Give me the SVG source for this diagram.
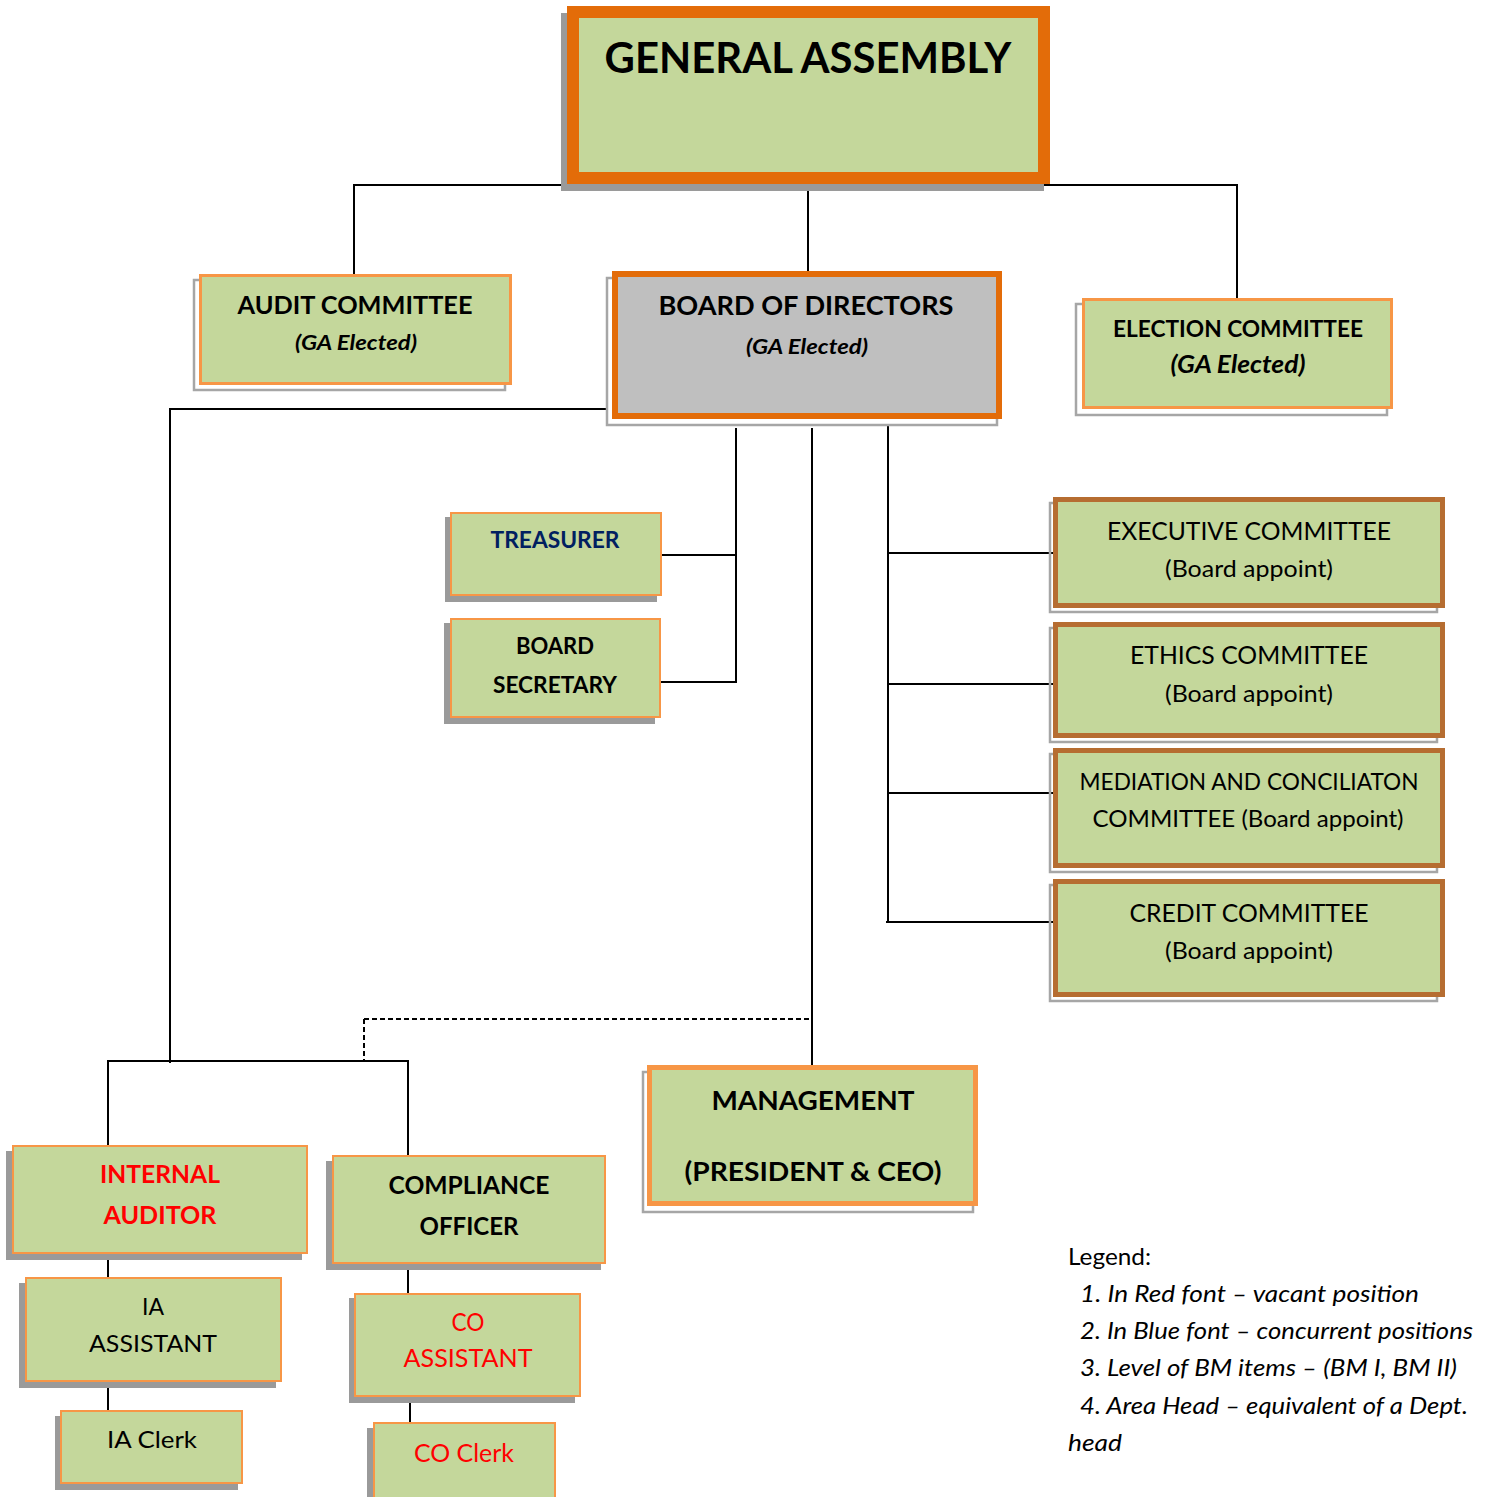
<svg xmlns="http://www.w3.org/2000/svg" width="1491" height="1497" viewBox="0 0 1491 1497">
<style>
text{font-family:Lato,"Liberation Sans",sans-serif;text-anchor:middle;fill:#000}
.b{font-weight:bold}
.i{font-style:italic}
.box{fill:#c4d79b}
.o{stroke:#f79646}
.do{stroke:#e36c09}
.br{stroke:#b66d31}
.sh{fill:#9a9a9a}
.sho{fill:none;stroke:#a6a6a6;stroke-width:2.5}
.red{fill:#ff0000}
.navy{fill:#002060}
.ln{stroke:#000;stroke-width:2;fill:none}
.lg{text-anchor:start;font-size:23px}
</style>
<rect width="1491" height="1497" fill="#fff"/>
<g id="connectors">
<path class="ln" d="M354 275V185H1237V300M808 185V272"/>
<path class="ln" d="M607 409H170V1063M108 1146V1061H408V1155"/>
<path class="ln" d="M364 1019H812" stroke-dasharray="5 3"/>
<path class="ln" d="M364 1019V1061" stroke-dasharray="5 3"/>
<path class="ln" d="M736 428V682H661M736 555H661"/>
<path class="ln" d="M812 428V1066"/>
<path class="ln" d="M888 425V922M888 553H1056M888 684H1056M888 793H1056M886 922H1056"/>
<path class="ln" d="M108 1254V1277M108 1388V1410M408 1264V1293M410 1397V1422"/>
</g>
<g id="general-assembly">
<rect class="sh" x="561" y="13" width="483" height="178"/>
<rect class="box do" x="573" y="12" width="471" height="166" stroke-width="12"/>
<text class="b" x="808" y="73" font-size="42" textLength="407" lengthAdjust="spacingAndGlyphs">GENERAL ASSEMBLY</text>
</g>
<g id="audit-committee">
<rect class="sho" x="194" y="280" width="311" height="110"/>
<rect class="box o" x="200.5" y="275.5" width="310" height="108" stroke-width="3"/>
<text class="b" x="355" y="314" font-size="25" textLength="235" lengthAdjust="spacingAndGlyphs">AUDIT COMMITTEE</text>
<text class="b i" x="356" y="350" font-size="21" textLength="122" lengthAdjust="spacingAndGlyphs">(GA Elected)</text>
</g>
<g id="board-of-directors">
<rect class="sho" x="607" y="278" width="390" height="147"/>
<rect x="615" y="274" width="384" height="142" fill="#bfbfbf" class="do" stroke-width="6"/>
<text class="b" x="806" y="315" font-size="26" textLength="295" lengthAdjust="spacingAndGlyphs">BOARD OF DIRECTORS</text>
<text class="b i" x="807" y="354" font-size="21" textLength="122" lengthAdjust="spacingAndGlyphs">(GA Elected)</text>
</g>
<g id="election-committee">
<rect class="sho" x="1076" y="304" width="311" height="111"/>
<rect class="box o" x="1083.5" y="299.5" width="308" height="108" stroke-width="3"/>
<text class="b" x="1238" y="337" font-size="22" textLength="250" lengthAdjust="spacingAndGlyphs">ELECTION COMMITTEE</text>
<text class="b i" x="1238" y="373" font-size="24" textLength="135" lengthAdjust="spacingAndGlyphs">(GA Elected)</text>
</g>
<g id="treasurer">
<rect class="sh" x="445" y="517" width="212" height="85"/>
<rect class="box o" x="451" y="513" width="210" height="82" stroke-width="2"/>
<text class="b navy" x="555" y="548" font-size="23" textLength="129" lengthAdjust="spacingAndGlyphs">TREASURER</text>
</g>
<g id="board-secretary">
<rect class="sh" x="444" y="623" width="211" height="101"/>
<rect class="box o" x="451" y="619" width="209" height="98" stroke-width="2"/>
<text class="b" x="555" y="654" font-size="23" textLength="78" lengthAdjust="spacingAndGlyphs">BOARD</text>
<text class="b" x="555" y="693" font-size="23" textLength="124" lengthAdjust="spacingAndGlyphs">SECRETARY</text>
</g>
<g id="executive-committee">
<rect class="sho" x="1050" y="503" width="387" height="109"/>
<rect class="box br" x="1055.5" y="499.5" width="387" height="106" stroke-width="5"/>
<text x="1249" y="540" font-size="25" textLength="284" lengthAdjust="spacingAndGlyphs">EXECUTIVE COMMITTEE</text>
<text x="1249" y="577" font-size="24" textLength="168" lengthAdjust="spacingAndGlyphs">(Board appoint)</text>
</g>
<g id="ethics-committee">
<rect class="sho" x="1050" y="628" width="387" height="114"/>
<rect class="box br" x="1055.5" y="624.5" width="387" height="111" stroke-width="5"/>
<text x="1249" y="664" font-size="25" textLength="238" lengthAdjust="spacingAndGlyphs">ETHICS COMMITTEE</text>
<text x="1249" y="702" font-size="24" textLength="168" lengthAdjust="spacingAndGlyphs">(Board appoint)</text>
</g>
<g id="mediation-committee">
<rect class="sho" x="1050" y="754" width="387" height="118"/>
<rect class="box br" x="1055.5" y="750.5" width="387" height="115" stroke-width="5"/>
<text x="1249" y="790" font-size="24" textLength="339" lengthAdjust="spacingAndGlyphs">MEDIATION AND CONCILIATON</text>
<text x="1248" y="827" font-size="24" textLength="311" lengthAdjust="spacingAndGlyphs">COMMITTEE (Board appoint)</text>
</g>
<g id="credit-committee">
<rect class="sho" x="1050" y="885" width="387" height="116"/>
<rect class="box br" x="1055.5" y="881.5" width="387" height="113" stroke-width="5"/>
<text x="1249" y="922" font-size="25" textLength="239" lengthAdjust="spacingAndGlyphs">CREDIT COMMITTEE</text>
<text x="1249" y="959" font-size="24" textLength="168" lengthAdjust="spacingAndGlyphs">(Board appoint)</text>
</g>
<g id="management">
<rect class="sho" x="643" y="1072" width="330" height="140"/>
<rect class="box o" x="649.5" y="1067.5" width="326" height="136" stroke-width="5"/>
<text class="b" x="813" y="1110" font-size="26" textLength="203" lengthAdjust="spacingAndGlyphs">MANAGEMENT</text>
<text class="b" x="813" y="1181" font-size="26" textLength="257" lengthAdjust="spacingAndGlyphs">(PRESIDENT &amp; CEO)</text>
</g>
<g id="internal-auditor">
<rect class="sh" x="6" y="1151" width="296" height="109"/>
<rect class="box o" x="13" y="1146" width="294" height="107" stroke-width="2"/>
<text class="b red" x="160" y="1183" font-size="24" textLength="120" lengthAdjust="spacingAndGlyphs">INTERNAL</text>
<text class="b red" x="160" y="1224" font-size="24" textLength="113" lengthAdjust="spacingAndGlyphs">AUDITOR</text>
</g>
<g id="ia-assistant">
<rect class="sh" x="19" y="1283" width="257" height="105"/>
<rect class="box o" x="26" y="1278" width="255" height="103" stroke-width="2"/>
<text x="153" y="1315" font-size="24" textLength="22" lengthAdjust="spacingAndGlyphs">IA</text>
<text x="153" y="1352" font-size="24" textLength="128" lengthAdjust="spacingAndGlyphs">ASSISTANT</text>
</g>
<g id="ia-clerk">
<rect class="sh" x="55" y="1416" width="183" height="74"/>
<rect class="box o" x="61" y="1411" width="181" height="72" stroke-width="2"/>
<text x="152" y="1448" font-size="23" textLength="90" lengthAdjust="spacingAndGlyphs">IA Clerk</text>
</g>
<g id="compliance-officer">
<rect class="sh" x="326" y="1161" width="275" height="109"/>
<rect class="box o" x="333" y="1156" width="272" height="107" stroke-width="2"/>
<text class="b" x="469" y="1194" font-size="25" textLength="161" lengthAdjust="spacingAndGlyphs">COMPLIANCE</text>
<text class="b" x="469" y="1235" font-size="25" textLength="99" lengthAdjust="spacingAndGlyphs">OFFICER</text>
</g>
<g id="co-assistant">
<rect class="sh" x="349" y="1298" width="226" height="105"/>
<rect class="box o" x="355" y="1294" width="225" height="102" stroke-width="2"/>
<text class="red" x="468" y="1331" font-size="25" textLength="33" lengthAdjust="spacingAndGlyphs">CO</text>
<text class="red" x="468" y="1367" font-size="25" textLength="129" lengthAdjust="spacingAndGlyphs">ASSISTANT</text>
</g>
<g id="co-clerk">
<rect class="sh" x="367" y="1428" width="183" height="80"/>
<rect class="box o" x="374" y="1423" width="181" height="80" stroke-width="2"/>
<text class="red" x="464" y="1462" font-size="24.5" textLength="100" lengthAdjust="spacingAndGlyphs">CO Clerk</text>
</g>
<g id="legend">
<text class="lg" x="1068" y="1265" textLength="83" lengthAdjust="spacingAndGlyphs">Legend:</text>
<text class="lg i" x="1080" y="1302" textLength="339" lengthAdjust="spacingAndGlyphs">1.  In Red font – vacant position</text>
<text class="lg i" x="1080" y="1339" textLength="393" lengthAdjust="spacingAndGlyphs">2. In Blue font – concurrent positions</text>
<text class="lg i" x="1080" y="1376" textLength="377" lengthAdjust="spacingAndGlyphs">3. Level of BM items – (BM I, BM II)</text>
<text class="lg i" x="1080" y="1414" textLength="388" lengthAdjust="spacingAndGlyphs">4. Area Head – equivalent of a Dept.</text>
<text class="lg i" x="1068" y="1451" textLength="54" lengthAdjust="spacingAndGlyphs">head</text>
</g>
</svg>
